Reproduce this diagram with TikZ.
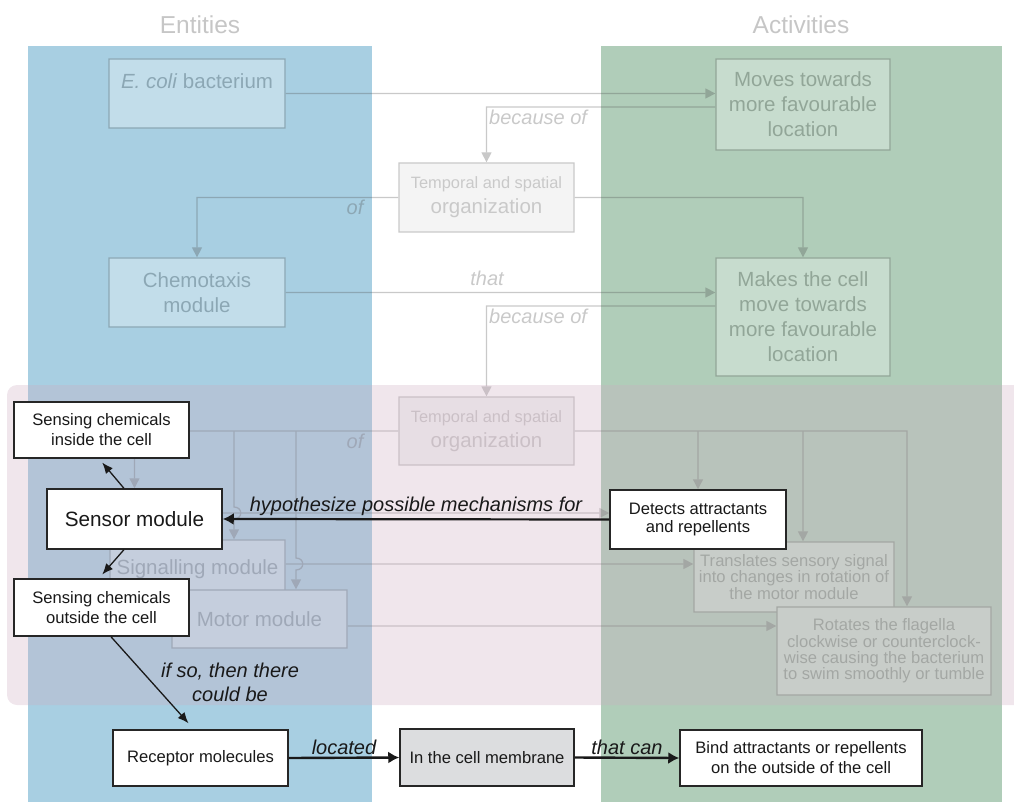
\documentclass[tikz,border=0pt]{standalone}
\usepackage{fontspec}
\setmainfont{Liberation Sans}
\usetikzlibrary{arrows.meta}
\pgfdeclarelayer{columns}
\pgfdeclarelayer{faded}
\pgfdeclarelayer{band}
\pgfsetlayers{columns,faded,band,main}
\definecolor{entblue}{RGB}{168,207,226}
\definecolor{actgreen}{RGB}{176,205,185}
\definecolor{bandpink}{RGB}{205,172,192}
\definecolor{membgray}{RGB}{220,221,223}
\definecolor{headgray}{RGB}{198,198,198}
\newcommand{\headtxt}{\fontsize{24.5}{28}\selectfont}
\newcommand{\bigtxt}{\fontsize{20.5}{25}\selectfont}
\newcommand{\smalltxt}{\fontsize{16.6}{16.4}\selectfont}
\newcommand{\boxtxt}{\fontsize{16.6}{20}\selectfont}
\newcommand{\labtxt}{\fontsize{20}{24}\selectfont\itshape}
\tikzset{
    greybox/.style={draw=black!70, fill=white, line width=1.3pt, text=black!70, inner sep=0pt, align=center, font=\bigtxt},
    orgbox/.style={greybox, fill=black!15},
    greyline/.style={draw=black!70, line width=1.3pt, -{Triangle[length=10pt,width=10pt]}},
    greylabel/.style={text=black!70, inner sep=0pt, font=\labtxt},
    mainbox/.style={draw=black!85, fill=white, line width=1.5pt, text=black!90, inner sep=0pt, align=center, font=\boxtxt},
    mainarrow/.style={draw=black!90, line width=2.4pt, -{Latex[length=11pt,width=12pt]}},
    thinarrow/.style={draw=black!90, line width=1.3pt, -{Latex[length=11pt,width=9pt]}},
    mainlabel/.style={text=black!90, inner sep=1pt, font=\labtxt},
}
\begin{document}
\begin{tikzpicture}[x=1pt, y=-1pt]
    \useasboundingbox (0,0) rectangle (1014,802);
    % Column backgrounds and headings
    \begin{pgfonlayer}{columns}
    \fill[entblue] (28,46) rectangle (372,802);
    \fill[actgreen] (601,46) rectangle (1002,802);
    \node (enthead) at (200,25) [font=\headtxt, text=headgray] {Entities};
    \node (acthead) at (801,25) [font=\headtxt, text=headgray] {Activities};
    \end{pgfonlayer}
    % Highlighted boxes
    \node (sensin) at (101.5,430) [mainbox, minimum width=175, minimum height=56] {Sensing chemicals\\inside the cell};
    \node (sensor) at (134.5,519) [mainbox, minimum width=175, minimum height=60, font=\fontsize{20.7}{24}\selectfont] {Sensor module};
    \node (sensout) at (101.5,607.5) [mainbox, minimum width=175, minimum height=57] {Sensing chemicals\\outside the cell};
    \node (detects) at (698,519.5) [mainbox, minimum width=176, minimum height=59, font=\fontsize{16.6}{18}\selectfont] {Detects attractants\\and repellents};
    \node (receptor) at (200.5,758) [mainbox, minimum width=175, minimum height=56] {Receptor molecules};
    \node (membrane) at (487,757.5) [mainbox, fill=membgray, minimum width=174, minimum height=57] {In the cell membrane};
    \node (bind) at (801,758) [mainbox, minimum width=242, minimum height=56] {Bind attractants or repellents\\on the outside of the cell};
    % Faded background explanation
    \begin{pgfonlayer}{faded}
    \begin{scope}[transparency group, opacity=0.3]
    \node (ecoli) at (197,93.5) [greybox, minimum width=176, minimum height=69] {\textit{E. coli} bacterium\\~};
    \node (moves) at (803,104.5) [greybox, minimum width=174, minimum height=91] {Moves towards\\more favourable\\location};
    \node (temp1) at (486.5,197.5) [orgbox, minimum width=175, minimum height=69] {{\fontsize{16.4}{20}\selectfont Temporal and spatial}\\organization};
    \node (chemo) at (197,292.5) [greybox, minimum width=176, minimum height=69] {Chemotaxis\\module};
    \node (makes) at (803,317) [greybox, minimum width=174, minimum height=118] {Makes the cell\\move towards\\more favourable\\location};
    \node (temp2) at (486.5,431) [orgbox, minimum width=175, minimum height=68] {{\fontsize{16.4}{20}\selectfont Temporal and spatial}\\organization};
    \node (signal) at (197.5,569.5) [greybox, minimum width=175, minimum height=59] {Signalling module};
    \node (motor) at (259.5,619) [greybox, minimum width=175, minimum height=58] {Motor module};
    \node (trans) at (794,577) [greybox, font=\smalltxt, minimum width=200, minimum height=70] {Translates sensory signal\\into changes in rotation of\\the motor module};
    \node (rotates) at (884,651) [greybox, font=\smalltxt, minimum width=214, minimum height=88] {Rotates the flagella\\clockwise or counterclock-\\wise causing the bacterium\\to swim smoothly or tumble};
    % upper connectors
    \draw[greyline] (ecoli.east) -- (ecoli.east -| moves.west);
    \draw[greyline] (moves.west |- 0,107) -| (temp1.north);
    \draw[greyline] (temp1.west) -| (chemo.north);
    \draw[greyline] (chemo.east) -- (chemo.east -| makes.west);
    \draw[greyline] (temp1.east) -| (makes.north);
    \draw[greyline] (makes.west |- 0,306) -| (temp2.north);
    \node (because1) at (489,117) [greylabel, anchor=west] {because of};
    \node (of1) at (355,207) [greylabel] {of};
    \node (that1) at (487,278) [greylabel] {that};
    \node (because2) at (489,316) [greylabel, anchor=west] {because of};
    \node (of2) at (355,441) [greylabel] {of};
    % organization into modules
    \draw[greyline] (temp2.west) -| (sensor.north);
    \draw[greyline] (temp2.west -| 234,0) -- (234,507) .. controls (243,507) and (243,519) .. (234,519) -- (signal.north -| 234,0);
    \draw[greyline] (temp2.west -| 296,0) -- (296,558) .. controls (305,558) and (305,570) .. (296,570) -- (motor.north -| 296,0);
    \draw[greyline] (temp2.east) -| ([xshift=23pt]rotates.north);
    \draw[greyline] (temp2.east -| detects.north) -- (detects.north);
    \draw[greyline] (temp2.east -| 803,0) -- (trans.north -| 803,0);
    \draw[greyline] (sensor.east |- 0,513) -- (detects.west |- 0,513);
    \draw[greyline] (signal.east |- 0,564) -- (trans.west |- 0,564);
    \draw[greyline] (motor.east |- 0,626) -- (rotates.west |- 0,626);
    \end{scope}
    \end{pgfonlayer}
    % Pink band
    \begin{pgfonlayer}{band}
    \fill[bandpink, opacity=0.3, rounded corners=10pt] (7,385) rectangle (1030,705);
    \end{pgfonlayer}
    % Highlighted connectors
    \draw[thinarrow, shorten >=5pt] (sensor.109) -- (sensin.265);
    \draw[thinarrow, shorten >=5pt] (sensor.251) -- (sensout.95);
    \draw[mainarrow, line width=2.2pt] (detects.west) -- (sensor.east) node[mainlabel, midway, above, yshift=2pt] (hyplab) {hypothesize possible mechanisms for};
    \draw[thinarrow, shorten >=8pt] (sensout.-72) -- (receptor.103);
    \node (ifso) at (230,682) [mainlabel, align=center] {if so, then there\\could be};
    \draw[mainarrow] (receptor.east) -- (membrane.west) node[mainlabel, midway, above, yshift=1pt] (loclab) {located};
    \draw[mainarrow] (membrane.east) -- (bind.west) node[mainlabel, midway, above, yshift=1pt] (canlab) {that can};
\end{tikzpicture}
\end{document}
